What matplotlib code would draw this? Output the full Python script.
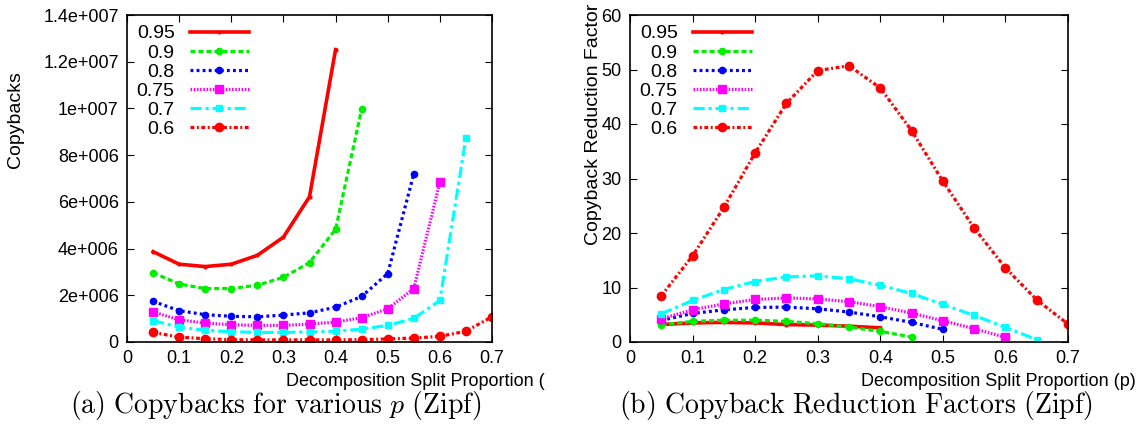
import matplotlib
matplotlib.use("Agg")
import matplotlib.pyplot as plt

plt.rcParams['font.family'] = ['Liberation Sans', 'DejaVu Sans']
plt.rcParams['mathtext.fontset'] = 'cm'

# split proportion p on the x axis
x = [0.05, 0.10, 0.15, 0.20, 0.25, 0.30, 0.35, 0.40, 0.45, 0.50, 0.55, 0.60, 0.65, 0.70]
series_labels = ['0.95', '0.9', '0.8', '0.75', '0.7', '0.6']

# (a) copybacks, in millions
cb_095 = [3.87, 3.33, 3.23, 3.33, 3.71, 4.49, 6.22, 12.52]
cb_09 = [2.97, 2.48, 2.29, 2.29, 2.43, 2.77, 3.40, 4.82, 9.97]
cb_08 = [1.74, 1.34, 1.17, 1.10, 1.08, 1.15, 1.25, 1.49, 1.95, 2.93, 7.20]
cb_075 = [1.29, 0.95, 0.81, 0.74, 0.71, 0.71, 0.77, 0.85, 1.04, 1.42, 2.29, 6.84]
cb_07 = [0.92, 0.63, 0.50, 0.44, 0.41, 0.41, 0.43, 0.46, 0.55, 0.71, 1.01, 1.78, 8.73]
cb_06 = [0.41, 0.21, 0.14, 0.10, 0.09, 0.09, 0.09, 0.09, 0.10, 0.13, 0.17, 0.24, 0.46, 1.08]

# (b) copyback reduction factor
rf_095 = [3.2, 3.5, 3.6, 3.5, 3.2, 3.1, 2.9, 2.6]
rf_09 = [3.17, 3.78, 4.0, 4.0, 3.78, 3.35, 2.74, 1.95, 0.91]
rf_08 = [3.96, 5.24, 5.9, 6.34, 6.4, 6.1, 5.5, 4.63, 3.6, 2.32]
rf_075 = [4.27, 5.9, 7.0, 7.8, 8.1, 7.9, 7.4, 6.5, 5.3, 3.9, 2.44, 0.85]
rf_07 = [5.18, 7.62, 9.63, 11.1, 11.95, 12.13, 11.6, 10.4, 8.9, 6.9, 4.88, 2.68, 0.43]
rf_06 = [8.48, 15.8, 24.7, 34.7, 43.8, 49.8, 50.7, 46.6, 38.8, 29.5, 20.9, 13.6, 7.74, 3.29]

styles = [
    dict(color='#ff0000', ls='-', lw=2.6, marker='.', ms=4),
    dict(color='#00ee00', ls=(0, (1.6, 0.9)), lw=2.3, marker='o', ms=4.5),
    dict(color='#0000ff', ls=(0, (0.9, 1.0)), lw=2.3, marker='o', ms=4.5),
    dict(color='#ff00ff', ls=(0, (0.5, 0.5)), lw=2.3, marker='s', ms=6),
    dict(color='#00ffff', ls=(0, (3.5, 1.2, 1, 1.2)), lw=2.3, marker='s', ms=4.5),
    dict(color='#ff0000', ls=(0, (1.2, 0.8, 0.6, 0.8)), lw=2.3, marker='o', ms=6),
]

fig = plt.figure(figsize=(11.39, 4.38), dpi=100)


def panel(ax, data, ylim, yticks, yticklabels):
    for vals, lab, st in zip(data, series_labels, styles):
        ax.plot(x[:len(vals)], vals, label=lab, **st)
    ax.set_xlim(0, 0.7)
    ax.set_ylim(*ylim)
    ax.set_xticks([0, 0.1, 0.2, 0.3, 0.4, 0.5, 0.6, 0.7])
    ax.set_xticklabels(['0', '0.1', '0.2', '0.3', '0.4', '0.5', '0.6', '0.7'])
    ax.set_yticks(yticks)
    ax.set_yticklabels(yticklabels)
    ax.tick_params(direction='in', top=True, right=True, length=5, width=0.8,
                   labelsize=13, pad=6)
    for sp in ax.spines.values():
        sp.set_linewidth(1.2)
    leg = ax.legend(loc='upper left', bbox_to_anchor=(0.0, 1.0), frameon=False,
                    markerfirst=False, fontsize=14, handlelength=3.0,
                    handletextpad=0.8, labelspacing=0.08, borderaxespad=0.1)
    return leg


ax1 = fig.add_axes([127 / 1139, (438 - 342) / 438, 365 / 1139, 327 / 438])
panel(ax1, [cb_095, cb_09, cb_08, cb_075, cb_07, cb_06], (0, 14),
      [0, 2, 4, 6, 8, 10, 12, 14],
      ['0', '2e+006', '4e+006', '6e+006', '8e+006', '1e+007', '1.2e+007', '1.4e+007'])

ax2 = fig.add_axes([630 / 1139, (438 - 342) / 438, 438 / 1139, 327 / 438])
panel(ax2, [rf_095, rf_09, rf_08, rf_075, rf_07, rf_06], (0, 60),
      [0, 10, 20, 30, 40, 50, 60], ['0', '10', '20', '30', '40', '50', '60'])

# axis titles
fig.text(16 / 1139, 1 - 120 / 438, 'Copybacks', rotation=90, ha='center', va='center', fontsize=14)
fig.text(593 / 1139, 1 - 124 / 438, 'Copyback Reduction Factor', rotation=90, ha='center',
         va='center', fontsize=14)
fig.text(545 / 1139, 1 - 381 / 438, 'Decomposition Split Proportion (', ha='right',
         va='center', fontsize=13)
fig.text(1136 / 1139, 1 - 381 / 438, 'Decomposition Split Proportion (p)', ha='right',
         va='center', fontsize=13)

# captions
fig.text(276 / 1139, 1 - 406 / 438, r'$\mathrm{(a)\ Copybacks\ for\ various\ }p\mathrm{\ (Zipf)}$',
         ha='center', va='center', fontsize=20)
fig.text(856 / 1139, 1 - 406 / 438, r'$\mathrm{(b)\ Copyback\ Reduction\ Factors\ (Zipf)}$',
         ha='center', va='center', fontsize=20)

fig.savefig('out.png', dpi=100)
